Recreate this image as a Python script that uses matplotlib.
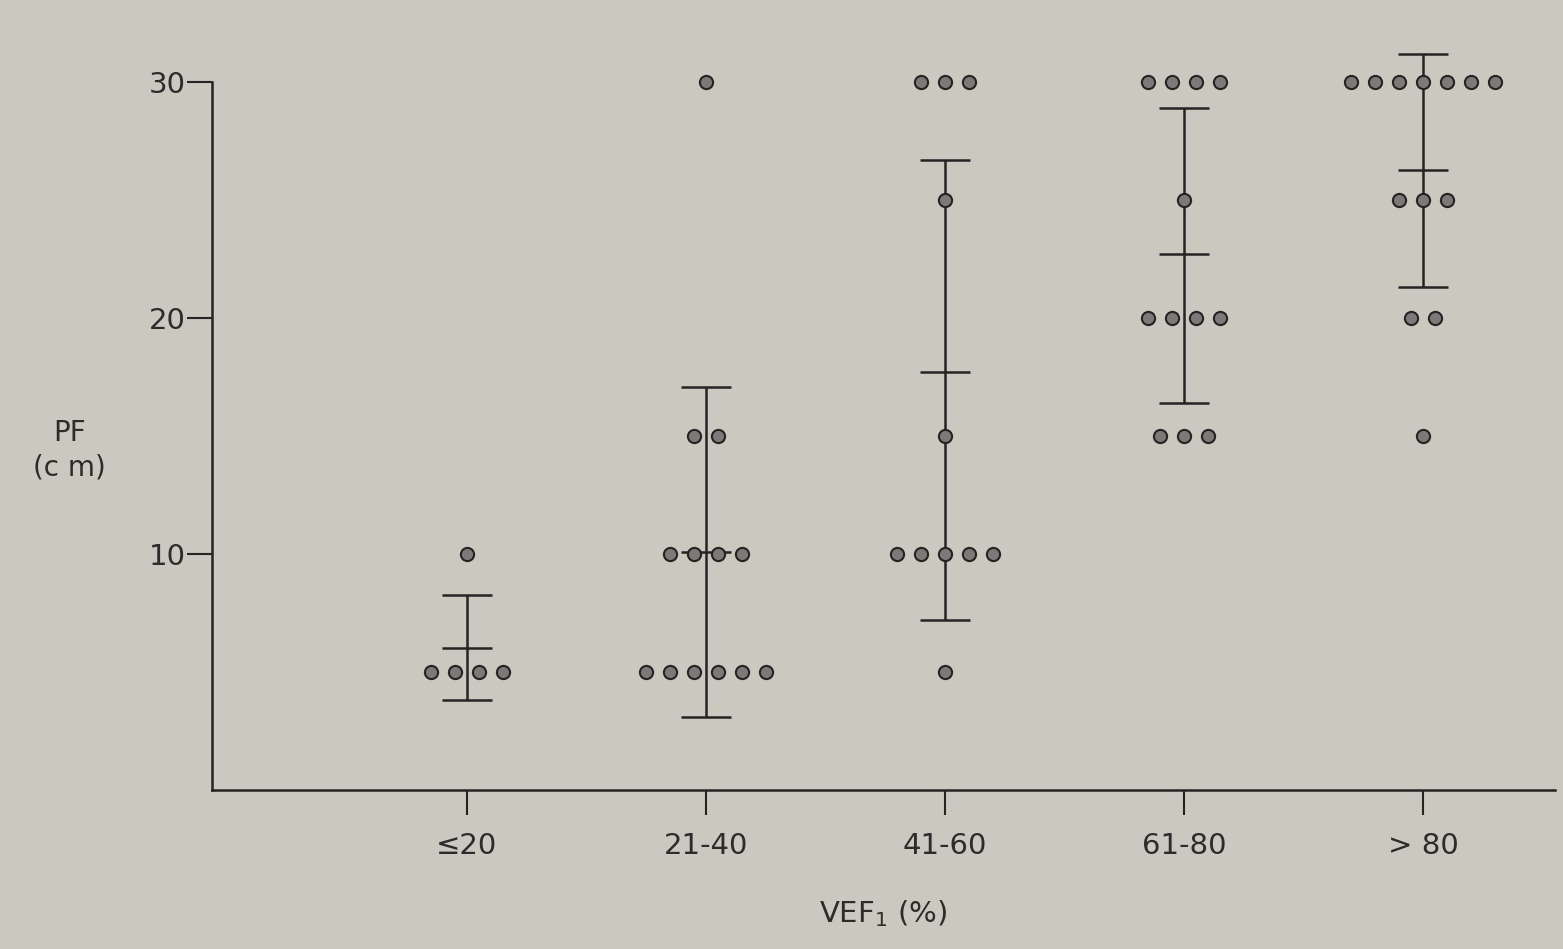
"""
PF vs VEF1 class: individual values with mean +/- SD bars.
"""
import numpy as np
import matplotlib
matplotlib.use("Agg")
import matplotlib.pyplot as plt

# categories on the x axis
categories = ["≤20", "21-40", "41-60", "61-80", "> 80"]

# individual observations per class (PF, cm)
pf_le20 = [10, 5, 5, 5, 5]
pf_21_40 = [30, 15, 15, 10, 10, 10, 10, 5, 5, 5, 5, 5, 5]
pf_41_60 = [30, 30, 30, 25, 15, 10, 10, 10, 10, 10, 5]
pf_61_80 = [30, 30, 30, 30, 25, 20, 20, 20, 20, 15, 15, 15]
pf_gt80 = [30, 30, 30, 30, 30, 30, 30, 25, 25, 25, 20, 20, 15]
groups = [pf_le20, pf_21_40, pf_41_60, pf_61_80, pf_gt80]

# bars as drawn: mean tick, lower and upper caps
bar_mean = [6.0, 10.1, 17.7, 22.7, 26.3]
bar_low = [3.8, 3.1, 7.2, 16.4, 21.3]
bar_high = [8.25, 17.1, 26.7, 28.9, 31.2]

PAPER = "#cac9c0"
INK = "#262323"
TXT = "#2e2b2b"
DOT_FACE = "#7c7a78"
DOT_SPACING = 0.1

fig = plt.figure(figsize=(15.63, 9.49), dpi=100, facecolor=PAPER)
ax = fig.add_axes([0.1356, 0.1675, 0.8593, 0.7956])
ax.set_facecolor(PAPER)

x = np.arange(len(categories))

# error bars
for i in range(len(categories)):
    m = bar_mean[i]
    ax.errorbar(x[i], m, yerr=[[m - bar_low[i]], [bar_high[i] - m]],
                fmt="none", ecolor=INK, elinewidth=1.8, capsize=18,
                capthick=1.8, zorder=2)
    ax.plot(x[i], m, marker="_", markersize=36, markeredgewidth=1.8,
            color=INK, zorder=2)

# individual points, rows of equal values spread horizontally
for i, vals in enumerate(groups):
    vals = np.array(vals)
    for v in sorted(set(vals), reverse=True):
        n = int((vals == v).sum())
        offs = (np.arange(n) - (n - 1) / 2) * DOT_SPACING
        ax.scatter(x[i] + offs, np.full(n, v), s=90, facecolor=DOT_FACE,
                   edgecolor=INK, linewidth=1.5, zorder=3)

ax.set_xlim(-1.067, 4.552)
ax.set_ylim(0, 32)
ax.set_yticks([10, 20, 30])
ax.set_xticks(x)
ax.set_xticklabels(categories)

for side in ("top", "right"):
    ax.spines[side].set_visible(False)
ax.spines["left"].set_bounds(0, 30)
for side in ("left", "bottom"):
    ax.spines[side].set_color(INK)
    ax.spines[side].set_linewidth(1.8)

ax.tick_params(axis="both", direction="out", length=18, width=1.5,
               color=INK, labelcolor=TXT, labelsize=21)
ax.tick_params(axis="y", pad=1)
ax.tick_params(axis="x", pad=12)

ax.set_xlabel("VEF$_1$ (%)", fontsize=21, color=TXT, labelpad=28)
ax.set_ylabel("PF\n(c m)", fontsize=20, color=TXT, rotation=0,
              ha="center", va="center", linespacing=1.3)
ax.yaxis.set_label_coords(-0.106, 0.45)

fig.savefig("out.png", dpi=100, facecolor=PAPER)
